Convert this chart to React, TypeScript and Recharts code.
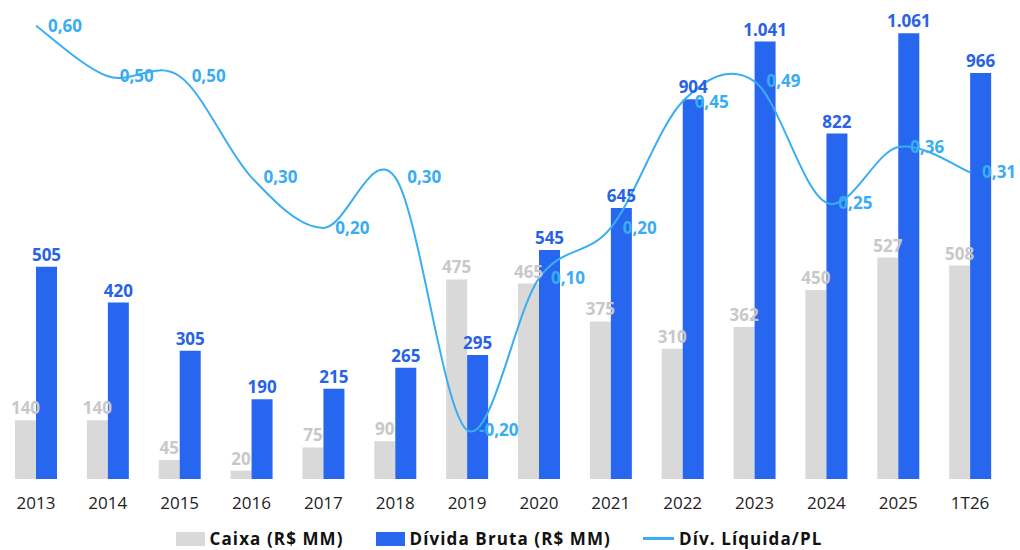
import { ComposedChart, Bar, Line, XAxis, YAxis, Legend, LabelList } from "recharts";

const categories = ["2013", "2014", "2015", "2016", "2017", "2018", "2019", "2020", "2021", "2022", "2023", "2024", "2025", "1T26"];
const caixa = [140, 140, 45, 20, 75, 90, 475, 465, 375, 310, 362, 450, 527, 508];
const dividaBruta = [505, 420, 305, 190, 215, 265, 295, 545, 645, 904, 1041, 822, 1061, 966];
const divLiqPl = [0.6, 0.5, 0.5, 0.3, 0.2, 0.3, -0.2, 0.1, 0.2, 0.45, 0.49, 0.25, 0.36, 0.31];

const data = categories.map((c, i) => ({
  ano: c,
  caixa: caixa[i],
  divida: dividaBruta[i],
  pl: divLiqPl[i],
}));

const GRAY = "#d9d9d9";
const BLUE = "#2767f0";
const LIGHT = "#3aaef2";
const FONT = "'Open Sans', sans-serif";

const fmtInt = (v: any) => Number(v).toLocaleString("pt-BR");
const fmtDec = (v: any) => Number(v).toFixed(2).replace(".", ",");

// smooth curve like the spreadsheet one (catmull-rom)
function smoothCurve(context: any) {
  let pts: number[][] = [];
  return {
    areaStart() {},
    areaEnd() {},
    lineStart() {
      pts = [];
    },
    lineEnd() {
      if (pts.length < 2) return;
      context.moveTo(pts[0][0], pts[0][1]);
      for (let i = 0; i < pts.length - 1; i++) {
        const p0 = pts[i - 1] || pts[i];
        const p1 = pts[i];
        const p2 = pts[i + 1];
        const p3 = pts[i + 2] || p2;
        context.bezierCurveTo(
          p1[0] + (p2[0] - p0[0]) / 6,
          p1[1] + (p2[1] - p0[1]) / 6,
          p2[0] - (p3[0] - p1[0]) / 6,
          p2[1] - (p3[1] - p1[1]) / 6,
          p2[0],
          p2[1]
        );
      }
    },
    point(x: number, y: number) {
      pts.push([x, y]);
    },
  };
}

function LegendBox() {
  const item = { display: "flex", alignItems: "center", fontWeight: 700, fontSize: 17, color: "#111", letterSpacing: 1.1 };
  return (
    <div style={{ display: "flex", justifyContent: "center", gap: 32, fontFamily: FONT, marginLeft: -8 }}>
      <div style={item}>
        <span style={{ width: 29, height: 14, background: GRAY, marginRight: 5 }} />
        Caixa (R$ MM)
      </div>
      <div style={item}>
        <span style={{ width: 29, height: 14, background: BLUE, marginRight: 5 }} />
        Dívida Bruta (R$ MM)
      </div>
      <div style={item}>
        <span style={{ width: 31, height: 3, background: LIGHT, marginRight: 5 }} />
        Dív. Líquida/PL
      </div>
    </div>
  );
}

export default function App() {
  return (
    <div style={{ position: "absolute", left: 0, top: 0, background: "#fff" }}>
      <ComposedChart
        width={1020}
        height={550}
        data={data}
        margin={{ top: 0, right: 14, left: 0, bottom: 0 }}
        barGap={0}
      >
        <XAxis
          dataKey="ano"
          axisLine={false}
          tickLine={false}
          height={48}
          tickMargin={12}
          tick={{ fill: "#222", fontSize: 17, fontFamily: FONT }}
        />
        <YAxis yAxisId="bars" hide domain={[0, 1140]} />
        <YAxis yAxisId="line" hide domain={[-0.297, 0.651]} />
        <Legend verticalAlign="bottom" content={() => <LegendBox />} />
        <Bar yAxisId="bars" dataKey="caixa" fill={GRAY} barSize={21} isAnimationActive={false}>
          <LabelList
            dataKey="caixa"
            position="top"
            offset={6}
            formatter={fmtInt}
            style={{ fill: "#c8c8c8", fontSize: 17, fontWeight: 700, fontFamily: FONT }}
          />
        </Bar>
        <Bar yAxisId="bars" dataKey="divida" fill={BLUE} barSize={21} isAnimationActive={false}>
          <LabelList
            dataKey="divida"
            position="top"
            offset={6}
            formatter={fmtInt}
            style={{ fill: "#2862e6", fontSize: 17, fontWeight: 700, fontFamily: FONT }}
          />
        </Bar>
        <Line
          yAxisId="line"
          dataKey="pl"
          type={smoothCurve as any}
          stroke={LIGHT}
          strokeWidth={2}
          strokeLinecap="butt"
          dot={false}
          activeDot={false}
          isAnimationActive={false}
        >
          <LabelList
            dataKey="pl"
            position="right"
            offset={12}
            formatter={fmtDec}
            style={{ fill: "#38adf3", fontSize: 17, fontWeight: 700, fontFamily: FONT }}
          />
        </Line>
      </ComposedChart>
    </div>
  );
}
